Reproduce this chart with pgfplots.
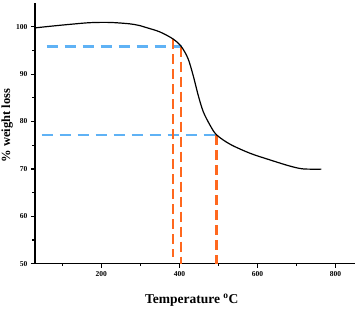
\documentclass[border=0pt]{standalone}
\usepackage{fontspec}
\setmainfont{Liberation Serif}
\usepackage{pgfplots}
\pgfplotsset{compat=1.18}
\definecolor{dblue}{RGB}{95,178,245}
\definecolor{dorange}{RGB}{255,104,30}
\begin{document}
\begin{tikzpicture}
\begin{axis}[
  name=ax,
  scale only axis,
  width=320pt, height=260.7pt,
  xmin=30, xmax=850, ymin=50, ymax=105,
  axis x line*=bottom, axis y line*=left,
  axis line style={line width=1.4pt},
  xtick={200,400,600,800}, minor xtick={100,300,500,700},
  ytick={50,60,70,80,90,100}, minor ytick={55,65,75,85,95},
  tick align=outside,
  major tick length=4pt, minor tick length=2.5pt,
  tick style={line width=1.2pt, black},
  ticklabel style={font=\bfseries\fontsize{7.5}{8}\selectfont},
  /pgf/number format/assume math mode=true,
  xlabel={Temperature \textsuperscript{o}C},
  ylabel={\% weight loss},
  xlabel style={font=\bfseries\fontsize{13.5}{15}\selectfont, at={(axis description cs:0.49,-0.14)}, anchor=center},
  ylabel style={font=\bfseries\fontsize{12.5}{14}\selectfont, at={(axis description cs:-0.087,0.53)}, anchor=center, rotate=0},
  clip=false,
]
% dashed guide lines
\addplot[dblue, line width=2.3pt, dash pattern=on 11pt off 7pt] coordinates {(60,95.8) (407,95.8)};
\addplot[dblue, line width=2.3pt, dash pattern=on 11pt off 7pt] coordinates {(47,77.1) (495,77.1)};
\addplot[dorange, line width=2.3pt, dash pattern=on 10pt off 5pt] coordinates {(384,97.4) (384,51.5)};
\addplot[dorange, line width=2.3pt, dash pattern=on 10pt off 5pt] coordinates {(405,95.8) (405,50)};
\addplot[dorange, line width=2.3pt, dash pattern=on 10pt off 5pt] coordinates {(495,77.1) (495,50)};
% TGA curve
\addplot[black, line width=1.2pt, smooth] coordinates {
(30,99.75) (70,100.1) (120,100.5) (171,100.85) (222,100.9) (273,100.6)
(300,100.2) (316,99.8) (350,98.9) (384,97.4) (405,95.8) (422,93.3)
(435,89.8) (448,85.6) (461,82.1) (478,79.3) (495,77.2) (530,75.2)
(581,73.3) (632,71.9) (683,70.6) (717,70.0) (764,69.95)
};
\end{axis}
\pgfresetboundingbox
\path[use as bounding box] (ax.south west) ++(-35pt,-47.3pt) rectangle ++(358pt,311pt);
\end{tikzpicture}
\end{document}
